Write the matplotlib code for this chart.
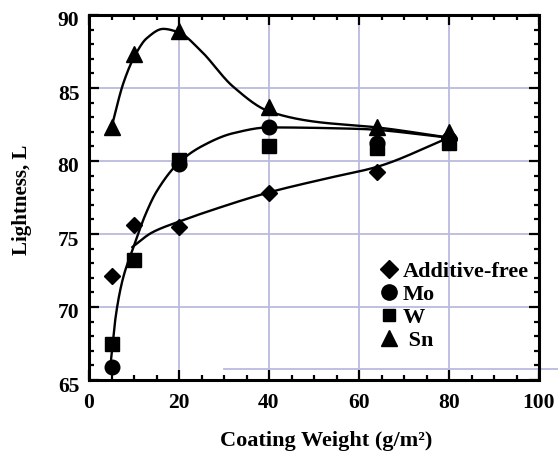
import numpy as np
import matplotlib
matplotlib.use("Agg")
import matplotlib.pyplot as plt
from matplotlib.lines import Line2D
from matplotlib.transforms import ScaledTranslation

# ---- data ----
coating_weight = [5, 10, 20, 40, 64, 80]
additive_free = [72.1, 75.6, 75.5, 77.8, 79.25, 81.6]
mo_x = [5, 20, 40, 64, 80]
mo = [65.9, 79.8, 82.3, 81.2, 81.5]
w = [67.5, 73.2, 80.1, 81.0, 80.9, 81.2]
sn = [82.3, 87.3, 88.9, 83.7, 82.3, 82.0]

# fitted trend curves (knots)
fit_add_x = [9.6, 14, 20, 26, 40, 52, 64, 80]
fit_add_y = [74.1, 75.1, 75.85, 76.5, 77.85, 78.75, 79.6, 81.6]
fit_mow_x = [4.9, 6, 7.5, 10, 12.5, 15, 20, 25, 32, 40, 60, 80]
fit_mow_y = [66.4, 69.5, 71.9, 74.2, 76.3, 77.9, 79.9, 81.0, 81.9, 82.3, 82.2, 81.6]
fit_sn_x = [5, 7.6, 10, 12.8, 16.5, 20, 24.7, 32, 40, 50, 64, 80]
fit_sn_y = [82.3, 85.3, 87.1, 88.4, 89.05, 88.8, 87.6, 85.1, 83.4, 82.7, 82.3, 81.6]

labels = ["Additive-free", "Mo", "W", " Sn"]


def pchip(xk, yk, n=400):
    xk = np.asarray(xk, float); yk = np.asarray(yk, float)
    h = np.diff(xk); dlt = np.diff(yk) / h
    m = np.zeros_like(yk)
    for i in range(1, len(xk) - 1):
        if dlt[i - 1] * dlt[i] > 0:
            w1 = 2 * h[i] + h[i - 1]; w2 = h[i] + 2 * h[i - 1]
            m[i] = (w1 + w2) / (w1 / dlt[i - 1] + w2 / dlt[i])
    m[0] = dlt[0]; m[-1] = dlt[-1]
    xs = np.linspace(xk[0], xk[-1], n)
    idx = np.clip(np.searchsorted(xk, xs, side="right") - 1, 0, len(xk) - 2)
    t = (xs - xk[idx]) / h[idx]
    h00 = 2 * t**3 - 3 * t**2 + 1; h10 = t**3 - 2 * t**2 + t
    h01 = -2 * t**3 + 3 * t**2; h11 = t**3 - t**2
    ys = h00 * yk[idx] + h10 * h[idx] * m[idx] + h01 * yk[idx + 1] + h11 * h[idx] * m[idx + 1]
    return xs, ys


serif = ["Liberation Serif", "DejaVu Serif"]
plt.rcParams["font.family"] = serif
plt.rcParams["font.weight"] = "bold"

fig = plt.figure(figsize=(5.58, 4.51), dpi=100)
ax = fig.add_axes([89 / 558, 1 - 380 / 451, 450 / 558, 365 / 451])

grid_c = "#babade"
ax.grid(True, which="major", color=grid_c, linewidth=1.3)
ax.set_axisbelow(True)

lw = 1.7
for fx, fy in [(fit_add_x, fit_add_y), (fit_mow_x, fit_mow_y), (fit_sn_x, fit_sn_y)]:
    xs, ys = pchip(fx, fy)
    ax.plot(xs, ys, color="black", lw=lw, zorder=3, solid_capstyle="round")

ax.plot(coating_weight, additive_free, "D", color="black", ms=8, ls="none", zorder=4)
ax.plot(mo_x, mo, "o", color="black", ms=10.5, ls="none", zorder=4)
ax.plot(coating_weight, w, "s", color="black", ms=10.5, ls="none", zorder=4)
ax.plot(coating_weight, sn, "^", color="black", ms=12, ls="none", zorder=4)

# stray rule near the bottom of the original figure
ax.plot([30, 104.2], [65.75, 65.75], color=grid_c, lw=1.3, clip_on=False, zorder=2)

ax.set_xlim(0, 100)
ax.set_ylim(65, 90)
ax.set_xticks(np.arange(0, 101, 20))
ax.set_xticks(np.arange(0, 101, 5), minor=True)
ax.set_yticks(np.arange(65, 91, 5))
ax.set_yticks(np.arange(65, 91, 1), minor=True)
ax.tick_params(which="both", direction="in", top=True, right=True, width=1.6, color="black")
ax.tick_params(which="major", length=7, labelsize=15.5)
ax.tick_params(axis="x", which="major", pad=9)
ax.tick_params(axis="y", which="major", pad=7)
ax.tick_params(which="minor", length=3.5)
off = ScaledTranslation(0, -4 / 100, fig.dpi_scale_trans)
for lab in ax.get_yticklabels():
    lab.set_transform(lab.get_transform() + off)
for lab in ax.get_xticklabels() + ax.get_yticklabels():
    lab.set_fontweight("bold")
for s in ax.spines.values():
    s.set_linewidth(2.2)

ax.set_xlabel("Coating Weight (g/m²)", fontsize=16, fontweight="bold", va="center")
ax.xaxis.set_label_coords(0.527, -0.168)
ax.set_ylabel("Lightness, L", fontsize=15, fontweight="bold", va="center")
ax.yaxis.set_label_coords(-0.149, 0.495)

handles = [
    Line2D([], [], marker="D", color="black", ls="none", ms=9),
    Line2D([], [], marker="o", color="black", ms=11, ls="none"),
    Line2D([], [], marker="s", color="black", ms=9, ls="none"),
    Line2D([], [], marker="^", color="black", ms=12, ls="none"),
]
leg = ax.legend(handles, labels, loc="upper left", bbox_to_anchor=(0.645, 0.326),
                frameon=False, handlelength=0.9, handletextpad=0.15, labelspacing=0.12,
                borderaxespad=0, borderpad=0,
                prop={"family": serif, "weight": "bold", "size": 16})

fig.savefig("out.png", dpi=100)
